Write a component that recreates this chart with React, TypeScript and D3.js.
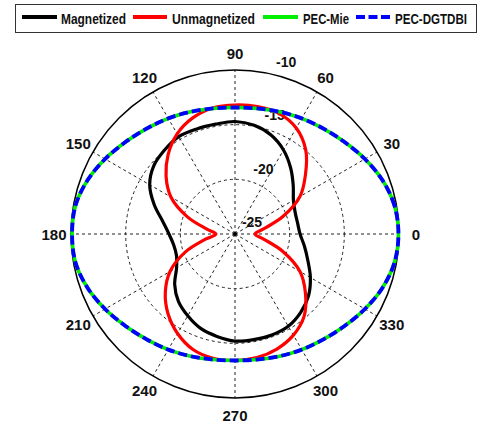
import React from "react";
import * as d3 from "d3";

const angles = [0, 10, 20, 30, 40, 50, 60, 70, 80, 90, 100, 110, 120, 130, 140, 150, 160, 170, 180, 190, 200, 210, 220, 230, 240, 250, 260, 270, 280, 290, 300, 310, 320, 330, 340, 350];

const magnetized = [-19.05, -19.19, -19.15, -18.83, -18.05, -17.09, -16.13, -15.37, -14.91, -14.71, -14.8, -14.77, -14.71, -14.98, -15.3, -15.99, -17.13, -18.28, -18.96, -19.3, -19.3, -18.83, -17.8, -16.95, -16.36, -15.81, -15.49, -15.21, -15.19, -15.17, -15.26, -15.65, -16.22, -17.04, -17.91, -18.55];

const unmagnetized = [-23.17, -22.35, -20.34, -18.14, -16.59, -14.94, -13.8, -13.25, -13.16, -13.2, -13.29, -13.7, -14.42, -15.49, -16.77, -18.23, -20.34, -22.35, -23.26, -22.26, -20.15, -18.14, -16.68, -15.47, -14.49, -13.76, -13.46, -13.43, -13.52, -13.8, -14.32, -15.17, -16.59, -18.14, -20.34, -22.35];

const pecMie = [-10.05, -10.18, -10.64, -11.28, -11.92, -12.42, -12.79, -13.11, -13.34, -13.43, -13.34, -13.11, -12.79, -12.42, -11.92, -11.28, -10.64, -10.18, -10.1, -10.18, -10.64, -11.28, -11.92, -12.42, -12.79, -13.11, -13.34, -13.43, -13.34, -13.11, -12.79, -12.42, -11.92, -11.28, -10.64, -10.18];

const pecDgtdbi = [-10.05, -10.18, -10.64, -11.28, -11.92, -12.42, -12.79, -13.11, -13.34, -13.43, -13.34, -13.11, -12.79, -12.42, -11.92, -11.28, -10.64, -10.18, -10.1, -10.18, -10.64, -11.28, -11.92, -12.42, -12.79, -13.11, -13.34, -13.43, -13.34, -13.11, -12.79, -12.42, -11.92, -11.28, -10.64, -10.18];

const spokeAngles = [0, 30, 60, 90, 120, 150, 180, 210, 240, 270, 300, 330];
const spokeLabels = ["0", "30", "60", "90", "120", "150", "180", "210", "240", "270", "300", "330"];
const ringValues = [-25, -20, -15, -10];
const ringLabels = ["-25", "-20", "-15", "-10"];

const legendNames = ["Magnetized", "Unmagnetized", "PEC-Mie", "PEC-DGTDBI"];

const W = 479;
const H = 426;
const cx = 235;
const cy = 234;
const R = 164;

export default function App() {
  const r = d3.scaleLinear().domain([-25, -10]).range([0, R]);
  const toRad = (deg: number) => (deg * Math.PI) / 180;

  const radial = (vals: number[]) =>
    d3
      .lineRadial<number>()
      .angle((_, i) => Math.PI / 2 - toRad(angles[i]))
      .radius((v) => r(v))
      .curve(d3.curveCatmullRomClosed.alpha(0.5))(vals) || "";

  const series = [
    { name: legendNames[0], vals: magnetized, color: "#000000", width: 3.2, dash: undefined as string | undefined },
    { name: legendNames[1], vals: unmagnetized, color: "#ff0000", width: 3.2, dash: undefined },
    { name: legendNames[2], vals: pecMie, color: "#00ee00", width: 3.6, dash: undefined },
    { name: legendNames[3], vals: pecDgtdbi, color: "#0000ff", width: 3.8, dash: "9,4" },
  ];

  const legendLayout = [
    { x1: 22, x2: 57, tx: 61, tw: 65 },
    { x1: 133, x2: 167, tx: 172, tw: 83 },
    { x1: 263, x2: 298, tx: 303, tw: 46 },
    { x1: 356, x2: 391, tx: 395, tw: 72 },
  ];

  const font = "'Liberation Sans', Arial, sans-serif";
  const sx = 0.8;

  return (
    <svg
      width={W}
      height={H}
      style={{ position: "absolute", left: 0, top: 0, background: "#fff" }}
    >
      <rect x={0} y={0} width={W} height={H} fill="#fff" />
      {/* Legend */}
      <rect x={15.5} y={4.5} width={461} height={28} fill="#fff" stroke="#333" strokeWidth={1} />
      {series.map((s, i) => {
        const L = legendLayout[i];
        return (
          <g key={s.name}>
            {i === 3 ? (
              <line x1={L.x1} x2={L.x2} y1={17} y2={17} stroke={s.color} strokeWidth={4} strokeDasharray="9,3.5" />
            ) : (
              <line x1={L.x1} x2={L.x2} y1={17} y2={17} stroke={s.color} strokeWidth={4} />
            )}
            <text
              transform={`translate(${L.tx},24) scale(${sx},1)`}
              x={0}
              y={0}
              fontFamily={font}
              fontWeight="bold"
              fontSize={15}
              textLength={L.tw / sx}
              lengthAdjust="spacingAndGlyphs"
              fill="#111"
            >
              {s.name}
            </text>
          </g>
        );
      })}

      <g transform={`translate(${cx},${cy})`}>
        {/* inner rings */}
        {ringValues.slice(1, 3).map((v) => (
          <circle key={v} r={r(v)} fill="none" stroke="#222" strokeWidth={1} strokeDasharray="3,3" />
        ))}
        {/* spokes */}
        {spokeAngles.map((a) => (
          <line
            key={a}
            x1={0}
            y1={0}
            x2={R * Math.cos(toRad(a))}
            y2={-R * Math.sin(toRad(a))}
            stroke="#222"
            strokeWidth={1}
            strokeDasharray="3,3"
          />
        ))}
        <circle r={2} fill="#000" />
        {/* outer circle */}
        <circle r={R} fill="none" stroke="#000" strokeWidth={1.5} />
        {/* ring labels */}
        {ringValues.map((v, i) => (
          <text
            key={v}
            x={r(v) * Math.cos(toRad(78)) + 17}
            y={-r(v) * Math.sin(toRad(78)) - 12}
            textAnchor="middle"
            dominantBaseline="central"
            fontFamily={font}
            fontWeight="bold"
            fontSize={14}
            fill="#111"
          >
            {ringLabels[i]}
          </text>
        ))}
        {/* angle labels */}
        {spokeAngles.map((a, i) => (
          <text
            key={a}
            x={181 * Math.cos(toRad(a))}
            y={-181 * Math.sin(toRad(a))}
            textAnchor="middle"
            dominantBaseline="central"
            fontFamily={font}
            fontWeight="bold"
            fontSize={15}
            fill="#111"
          >
            {spokeLabels[i]}
          </text>
        ))}
        {/* data curves */}
        {series.map((s) => (
          <path
            key={s.name}
            d={radial(s.vals)}
            fill="none"
            stroke={s.color}
            strokeWidth={s.width}
            strokeDasharray={s.dash}
            strokeLinejoin="round"
          />
        ))}
      </g>
    </svg>
  );
}
